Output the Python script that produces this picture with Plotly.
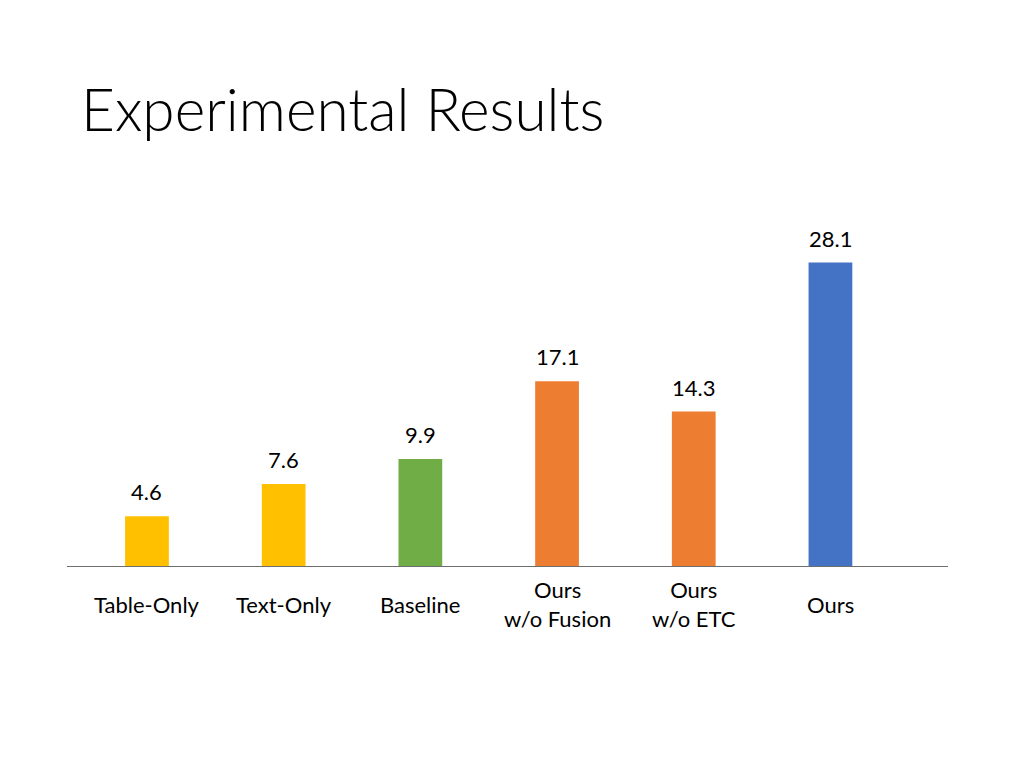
import plotly.graph_objects as go

categories = ["Table-Only", "Text-Only", "Baseline", "Ours<br>w/o Fusion", "Ours<br>w/o ETC", "Ours"]
values = [4.6, 7.6, 9.9, 17.1, 14.3, 28.1]
value_labels = ["4.6", "7.6", "9.9", "17.1", "14.3", "28.1"]
colors = ["#FFC000", "#FFC000", "#70AD47", "#ED7D31", "#ED7D31", "#4472C4"]

FONT = "Lato"
idx = list(range(len(categories)))

# plot area in figure pixels (page adds an 8px body margin)
PL, PR, PT, PB = 59, 940, 192, 558

fig = go.Figure()
fig.add_trace(go.Bar(x=idx, y=values, marker=dict(color=colors, line=dict(width=0)),
                     width=0.32, hoverinfo="skip"))

annotations = []
for i, (v, t) in enumerate(zip(values, value_labels)):
    annotations.append(dict(x=i, y=v, xref="x", yref="y", text=t, showarrow=False,
                            yanchor="bottom", yshift=9, font=dict(family=FONT, size=22, color="#000")))
for i, c in enumerate(categories):
    annotations.append(dict(x=i, y=0, xref="x", yref="y", text=c, showarrow=False,
                            yanchor="middle", yshift=-38, font=dict(family=FONT, size=22, color="#000")))
annotations.append(dict(x=(71 - PL) / (PR - PL), y=(PB - 100) / (PB - PT), xref="paper", yref="paper",
                        text="Experimental Results", showarrow=False, xanchor="left", yanchor="middle",
                        font=dict(family=FONT, size=58.5, color="#000", weight=300)))

fig.update_layout(
    width=1024, height=768,
    margin=dict(l=PL, r=1024 - PR, t=PT, b=768 - PB),
    paper_bgcolor="white", plot_bgcolor="white",
    showlegend=False,
    annotations=annotations,
    xaxis=dict(range=[-0.585, 5.86], showgrid=False, zeroline=False, showticklabels=False,
               showline=False, ticks=""),
    yaxis=dict(range=[0, (PB - PT) / 10.8], showgrid=False, zeroline=True, zerolinecolor="#6e6e6e",
               zerolinewidth=1.2, showticklabels=False, showline=False, ticks=""),
)

fig.write_html("out.html")
